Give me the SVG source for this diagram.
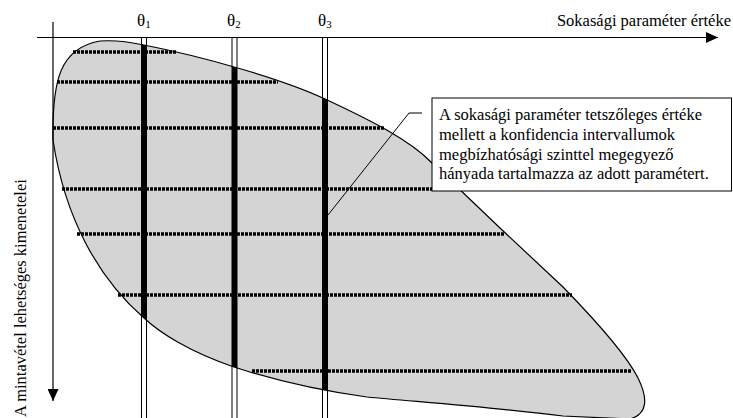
<svg xmlns="http://www.w3.org/2000/svg" width="733" height="418" viewBox="0 0 733 418">
<style>
text{font-family:"Liberation Serif","Times New Roman",serif;font-size:16.5px;fill:#000}
.th{font-size:17px}
.sub{font-size:11px}
.ax{stroke:#000;stroke-width:1.2;fill:none}
.row{stroke:#000;stroke-width:3.5;stroke-dasharray:3 1;fill:none}
.bar{fill:#fff;stroke:#000;stroke-width:1}
.barin{fill:#000}
.outline{fill:none;stroke:#000;stroke-width:1.2}
</style>
<defs>
<path id="blob" d="M53,140 C52,80 60,48 100,41 C115,40 130,42 144,45 C200,56 280,78 325,99 C370,120 410,140 432,163 L500,228 L563,287 C600,325 628,358 638,378 C648,398 648,414 630,419 L563,416 C500,408 420,402 367,397 C330,392 280,382 234,367 C190,352 160,333 144,318 C100,280 65,220 53,140 Z"/>
<clipPath id="clip"><use href="#blob"/></clipPath>
<marker id="ah" viewBox="0 0 12 11" refX="12" refY="5.5" markerWidth="12" markerHeight="11" markerUnits="userSpaceOnUse" orient="auto"><path d="M0,0 L12,5.5 L0,11 Z" fill="#000"/></marker>
</defs>

<g id="region">
<use href="#blob" fill="#d4d4d4"/>
<g id="rows">
<line class="row" x1="73" y1="52" x2="177" y2="52"/>
<line class="row" x1="57" y1="82" x2="278" y2="82"/>
<line class="row" x1="53" y1="128" x2="385" y2="128"/>
<line class="row" x1="62" y1="189" x2="465" y2="189"/>
<line class="row" x1="77" y1="234" x2="505" y2="234"/>
<line class="row" x1="118" y1="295" x2="572" y2="295"/>
<line class="row" x1="252" y1="371" x2="632" y2="371"/>
</g>
</g>

<g id="theta1">
<rect class="bar" x="141.5" y="37.5" width="5" height="382"/>
<rect class="barin" x="141.5" y="30" width="5" height="400" clip-path="url(#clip)"/>
<text class="th" x="137" y="26">θ<tspan class="sub" dy="2">1</tspan></text>
</g>
<g id="theta2">
<rect class="bar" x="232" y="37.5" width="5" height="382"/>
<rect class="barin" x="232" y="30" width="5" height="400" clip-path="url(#clip)"/>
<text class="th" x="227" y="26">θ<tspan class="sub" dy="2">2</tspan></text>
</g>
<g id="theta3">
<rect class="bar" x="322.5" y="37.5" width="5" height="382"/>
<rect class="barin" x="322.5" y="30" width="5" height="400" clip-path="url(#clip)"/>
<text class="th" x="318" y="26">θ<tspan class="sub" dy="2">3</tspan></text>
</g>

<use href="#blob" class="outline"/>

<g id="connectors">
<line class="ax" x1="37" y1="37.5" x2="718" y2="37.5" marker-end="url(#ah)"/>
<line class="ax" x1="53" y1="22" x2="53" y2="401" marker-end="url(#ah)"/>
<polyline fill="none" stroke="#000" stroke-width="1" points="422,113 409,113 328,215"/>
</g>

<g id="xlabel">
<text x="731" y="26" text-anchor="end">Sokasági paraméter értéke</text>
</g>
<g id="ylabel">
<text transform="translate(26,417) rotate(-90)">A mintavétel lehetséges kimenetelei</text>
</g>

<g id="callout">
<rect x="432" y="98" width="299.5" height="93" fill="#fff" stroke="#000" stroke-width="1"/>
<text x="439" y="120">A sokasági paraméter tetszőleges értéke</text>
<text x="439" y="140">mellett a konfidencia intervallumok</text>
<text x="439" y="159.5">megbízhatósági szinttel megegyező</text>
<text x="439" y="179">hányada tartalmazza az adott paramétert.</text>
</g>
</svg>
